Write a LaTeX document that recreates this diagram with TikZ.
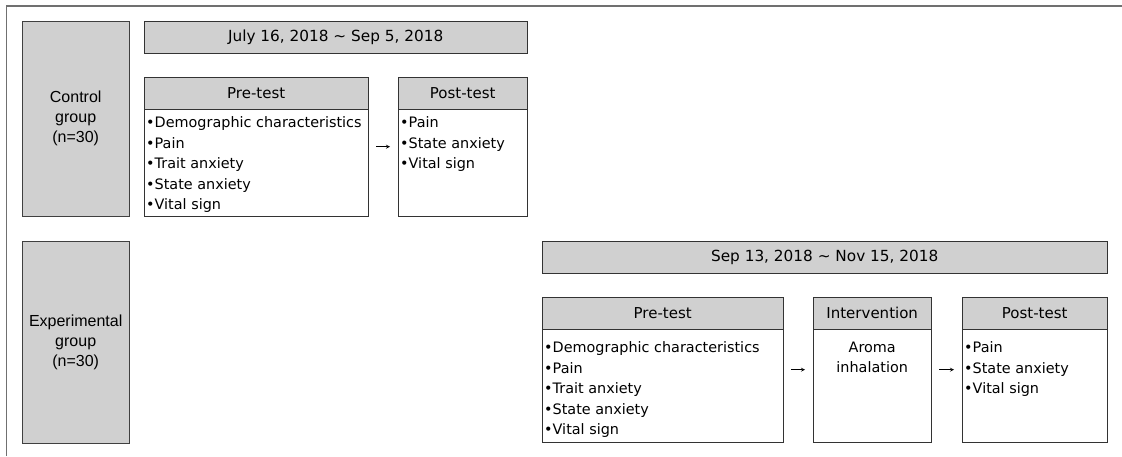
\documentclass[tikz,border=0pt]{standalone}
\usepackage{fontspec}
\setmainfont{DejaVu Sans}
\newfontfamily\grpfont{Liberation Sans}
\usetikzlibrary{positioning}

\definecolor{boxgray}{RGB}{208,208,208}
\definecolor{framegray}{RGB}{112,112,112}

\begin{document}
\begin{tikzpicture}[>=stealth, x=1pt, y=-1pt,
  grpbox/.style={draw=black!75, fill=boxgray, anchor=north west, minimum width=107pt, align=center, inner sep=0pt, font=\grpfont\fontsize{16}{20}\selectfont},
  datebox/.style={draw=black!80, fill=boxgray, anchor=north west, minimum height=32pt, inner sep=0pt, font=\fontsize{15.3}{18}\selectfont},
  testbox/.style={draw=black!80, fill=white, anchor=north west, inner sep=0pt},
  headbox/.style={draw=black!80, fill=boxgray, anchor=north, minimum height=32pt, inner sep=0pt, font=\fontsize{15}{18}\selectfont},
  itemtext/.style={align=left, inner sep=0pt, font=\fontsize{14.4}{20.5}\selectfont},
  flow/.style={->, line width=0.8pt, shorten <=8pt, shorten >=8pt}
]

\useasboundingbox (0,0) rectangle (1122,456);

% Frame
\draw[framegray, line width=1.6pt] (6.5,456) -- (6.5,6) -- (1122,6);

% Control group
\node[grpbox, minimum height=195pt] (ctl) at (22,21) {Control\\group\\(n=30)};
\node[datebox, minimum width=383pt] (ctldate) at (144,21) {July 16, 2018 \textasciitilde\ Sep 5, 2018};

\node[testbox, minimum width=224pt, minimum height=139pt] (ctlpre) at (144,77) {};
\node[headbox, minimum width=224pt] (ctlpre-head) at (ctlpre.north) {Pre-test};
\node[itemtext, below right=7pt and 2pt of ctlpre-head.south west] (ctlpre-text)
  {•Demographic characteristics\\•Pain\\•Trait anxiety\\•State anxiety\\•Vital sign};

\node[testbox, minimum width=129pt, minimum height=139pt] (ctlpost) at (398,77) {};
\node[headbox, minimum width=129pt] (ctlpost-head) at (ctlpost.north) {Post-test};
\node[itemtext, below right=7pt and 2pt of ctlpost-head.south west] (ctlpost-text)
  {•Pain\\•State anxiety\\•Vital sign};

\draw[flow] (ctlpre) -- (ctlpost);

% Experimental group
\node[grpbox, minimum height=202pt] (exp) at (22,241) {Experimental\\group\\(n=30)};
\node[datebox, minimum width=565pt] (expdate) at (542,241) {Sep 13, 2018 \textasciitilde\ Nov 15, 2018};

\node[testbox, minimum width=241pt, minimum height=145pt] (exppre) at (542,297) {};
\node[headbox, minimum width=241pt] (exppre-head) at (exppre.north) {Pre-test};
\node[itemtext, below right=12pt and 2pt of exppre-head.south west] (exppre-text)
  {•Demographic characteristics\\•Pain\\•Trait anxiety\\•State anxiety\\•Vital sign};

\node[testbox, minimum width=118pt, minimum height=145pt] (expint) at (813,297) {};
\node[headbox, minimum width=118pt] (expint-head) at (expint.north) {Intervention};
\node[itemtext, align=center, below=12pt of expint-head.south] (expint-text)
  {Aroma\\inhalation};

\node[testbox, minimum width=145pt, minimum height=145pt] (exppost) at (962,297) {};
\node[headbox, minimum width=145pt] (exppost-head) at (exppost.north) {Post-test};
\node[itemtext, below right=12pt and 2pt of exppost-head.south west] (exppost-text)
  {•Pain\\•State anxiety\\•Vital sign};

\draw[flow] (exppre) -- (expint);
\draw[flow] (expint) -- (exppost);

\end{tikzpicture}
\end{document}
